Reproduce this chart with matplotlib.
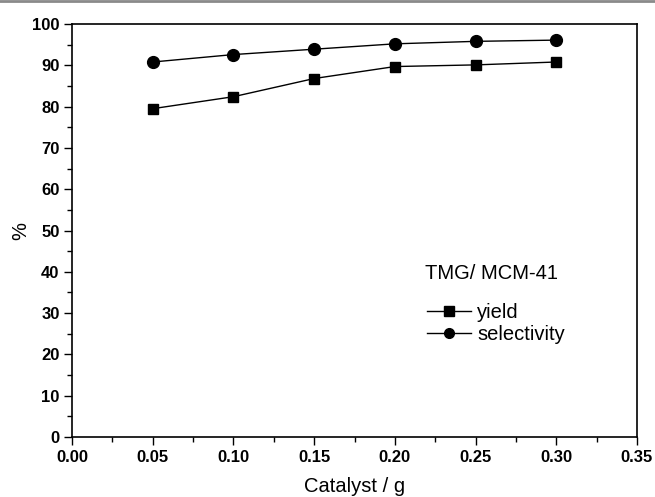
import matplotlib
matplotlib.use("Agg")
import matplotlib.pyplot as plt
from matplotlib.lines import Line2D
from matplotlib.ticker import MultipleLocator, FormatStrFormatter

# Catalyst loading (g) and measured percentages
catalyst = [0.05, 0.10, 0.15, 0.20, 0.25, 0.30]
yield_pct = [79.5, 82.4, 86.8, 89.7, 90.1, 90.8]
selectivity_pct = [90.8, 92.6, 93.9, 95.2, 95.8, 96.1]

series_labels = ["yield", "selectivity"]
legend_title = "TMG/ MCM-41"
x_label = "Catalyst / g"
y_label = "%"

plt.rcParams["font.family"] = ["Liberation Sans", "DejaVu Sans"]

fig = plt.figure(figsize=(6.55, 4.97), dpi=100)
ax = fig.add_axes([0.110, 0.1207, 0.8625, 0.831])

line_kw = dict(color="black", linewidth=1.0)
ax.plot(catalyst, yield_pct, marker="s", markersize=7.5, **line_kw)
ax.plot(catalyst, selectivity_pct, marker="o", markersize=8.5, **line_kw)

ax.set_xlim(0.0, 0.35)
ax.set_ylim(0, 100)
ax.xaxis.set_major_locator(MultipleLocator(0.05))
ax.xaxis.set_minor_locator(MultipleLocator(0.025))
ax.yaxis.set_major_locator(MultipleLocator(10))
ax.yaxis.set_minor_locator(MultipleLocator(5))
ax.xaxis.set_major_formatter(FormatStrFormatter("%.2f"))

ax.tick_params(which="major", direction="out", length=6, width=1.0, pad=3)
ax.tick_params(which="minor", direction="out", length=3.5, width=1.0)
for lbl in ax.get_xticklabels() + ax.get_yticklabels():
    lbl.set_fontweight("bold")
    lbl.set_fontsize(12)

for sp in ax.spines.values():
    sp.set_linewidth(1.2)

ax.set_xlabel(x_label, fontsize=14.5, labelpad=9)
ax.set_ylabel(y_label, fontsize=14.5, labelpad=1)

# Legend: title text plus line/marker handles
ax.text(0.2185, 39.6, legend_title, fontsize=14.5, ha="left", va="center")
handles = [
    Line2D([], [], marker="s", markersize=6.5, **line_kw),
    Line2D([], [], marker="o", markersize=7, **line_kw),
]
ax.legend(handles, series_labels, loc="upper left",
          bbox_to_anchor=(0.628, 0.325), frameon=False, fontsize=14.5,
          handlelength=2.2, handletextpad=0.3, labelspacing=0.15,
          borderpad=0, borderaxespad=0)

# thin gray rule along the top edge of the figure
fig.add_artist(Line2D([0, 1], [0.998, 0.998], transform=fig.transFigure,
                      color="#8a8a8a", linewidth=2))

fig.savefig("out.png", dpi=100)
